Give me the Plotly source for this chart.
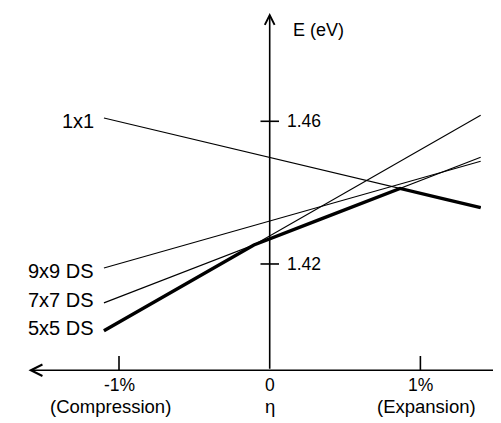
import numpy as np
import plotly.graph_objects as go

# ---- data ----
eta_ends = [-1.10, 1.40]                 # strain eta (%) at line ends
series_names = ["1x1", "9x9 DS", "7x7 DS", "5x5 DS"]
e_1x1 = [1.4609, 1.4358]
e_9x9 = [1.4189, 1.4488]
e_7x7 = [1.4091, 1.4499]
e_5x5 = [1.4013, 1.4617]
series_vals = [e_1x1, e_9x9, e_7x7, e_5x5]

x_tick_vals = [-1, 0, 1]
x_tick_text = ["-1%", "0", "1%"]
y_tick_vals = [1.46, 1.42]
y_tick_text = ["1.46", "1.42"]

W, H = 501, 423
XR = [-1.7366, 1.5880]
YR = [1.37318, 1.49176]


def px_x(p):
    return XR[0] + p / W * (XR[1] - XR[0])


def px_y(p):
    return YR[1] - p / H * (YR[1] - YR[0])


fig = go.Figure()

# thin lines
for name, v in zip(series_names, series_vals):
    fig.add_trace(go.Scatter(x=eta_ends, y=v, mode="lines",
                             line=dict(color="black", width=1.1),
                             showlegend=False, hoverinfo="skip"))

# lower envelope (thick) computed from the lines
def lin(v):
    s = (v[1] - v[0]) / (eta_ends[1] - eta_ends[0])
    return s, v[0] - s * eta_ends[0]

coefs = [lin(v) for v in series_vals]
bps = set(eta_ends)
for i in range(len(coefs)):
    for j in range(i + 1, len(coefs)):
        s1, b1 = coefs[i]
        s2, b2 = coefs[j]
        if s1 != s2:
            xi = (b2 - b1) / (s1 - s2)
            if eta_ends[0] < xi < eta_ends[1]:
                bps.add(xi)
bps = sorted(bps)
env_y = [min(s * x + b for s, b in coefs) for x in bps]
fig.add_trace(go.Scatter(x=bps, y=env_y, mode="lines",
                         line=dict(color="black", width=3.4),
                         showlegend=False, hoverinfo="skip"))

y0 = px_y(362.3)   # horizontal axis level
font = dict(family="Liberation Sans, Arial, sans-serif", color="black")

ann = []
# x axis with arrows both ends
ann.append(dict(x=px_x(500), y=y0, ax=px_x(19), ay=y0, xref="x", yref="y",
                axref="x", ayref="y", text="", showarrow=True,
                arrowhead=5, startarrowhead=5, arrowside="end+start",
                arrowsize=1.5, startarrowsize=1.5, arrowwidth=1.5,
                arrowcolor="black"))
# y axis with arrow at top
ann.append(dict(x=0, y=px_y(5), ax=0, ay=y0, xref="x", yref="y",
                axref="x", ayref="y", text="", showarrow=True,
                arrowhead=5, arrowsize=1.2, arrowwidth=1.6,
                arrowcolor="black"))

shapes = []
for xv in x_tick_vals:
    if xv != 0:
        shapes.append(dict(type="line", xref="x", yref="y", x0=xv, x1=xv,
                           y0=y0, y1=px_y(348), line=dict(color="black", width=1.6)))
    ann.append(dict(x=xv, y=px_y(377), xref="x", yref="y", showarrow=False,
                    text=x_tick_text[x_tick_vals.index(xv)],
                    font=dict(size=17.5, **font)))
for yv, yt in zip(y_tick_vals, y_tick_text):
    shapes.append(dict(type="line", xref="x", yref="y", x0=px_x(252.5), x1=px_x(271),
                       y0=yv, y1=yv, line=dict(color="black", width=1.6)))
    ann.append(dict(x=px_x(277), y=yv, xref="x", yref="y", showarrow=False,
                    text=yt, xanchor="left", font=dict(size=17.5, **font)))

# series labels at the left
label_pos = {"1x1": 113, "9x9 DS": 263, "7x7 DS": 292, "5x5 DS": 320}
for name in series_names:
    ann.append(dict(x=px_x(88), y=px_y(label_pos[name]), xref="x", yref="y",
                    showarrow=False, text=name, xanchor="right",
                    font=dict(size=20, **font)))

ann.append(dict(x=px_x(283), y=px_y(22), xref="x", yref="y", showarrow=False,
                text="E (eV)", xanchor="left", font=dict(size=18, **font)))
ann.append(dict(x=px_x(102), y=px_y(398), xref="x", yref="y", showarrow=False,
                text="(Compression)", font=dict(size=18.5, **font)))
ann.append(dict(x=0, y=px_y(398), xref="x", yref="y", showarrow=False,
                text="η", font=dict(size=18.5, **font)))
ann.append(dict(x=px_x(418), y=px_y(398), xref="x", yref="y", showarrow=False,
                text="(Expansion)", font=dict(size=18.5, **font)))

fig.update_layout(width=W, height=H, margin=dict(l=0, r=0, t=0, b=0),
                  paper_bgcolor="white", plot_bgcolor="white",
                  xaxis=dict(range=XR, visible=False, fixedrange=True),
                  yaxis=dict(range=YR, visible=False, fixedrange=True),
                  annotations=ann, shapes=shapes, showlegend=False)

fig.write_html("out.html")
